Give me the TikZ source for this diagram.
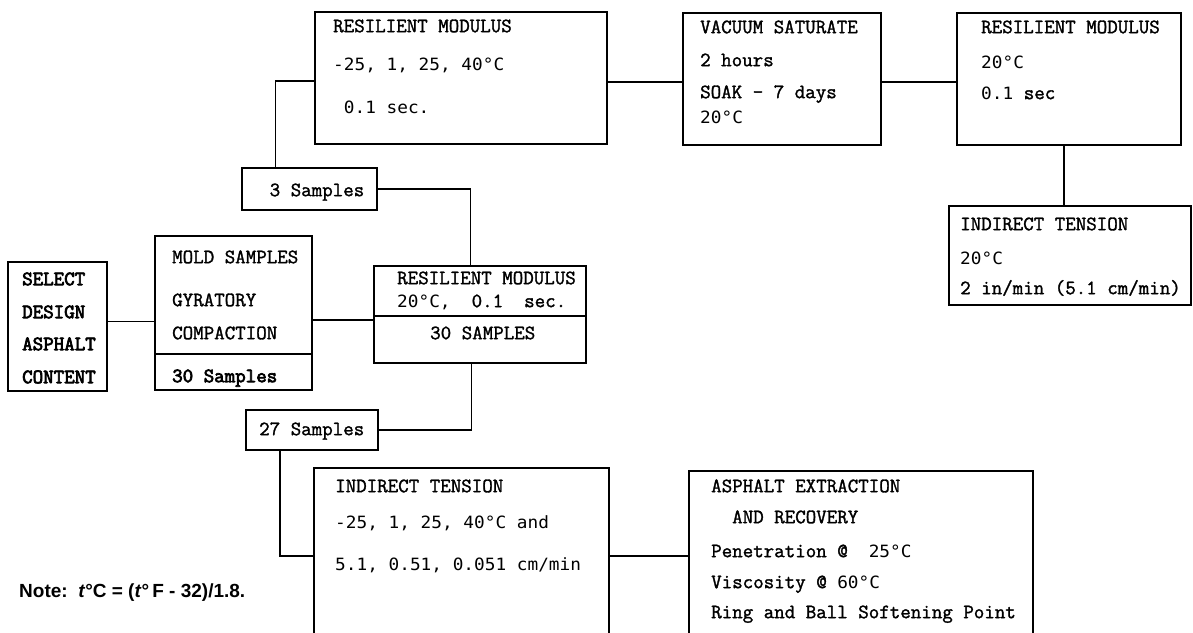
\documentclass[tikz,border=0pt]{standalone}
\usepackage{fontspec}
\usetikzlibrary{calc}
\newfontfamily\cour[Scale=1.146,FakeBold=1.5]{Latin Modern Mono}
\newfontfamily\courb[Scale=1.146,FakeBold=3.5]{Latin Modern Mono}
\newfontfamily\goth[Scale=0.95,FakeStretch=1.05]{DejaVu Sans Mono}
\newfontfamily\notefont{Liberation Sans}
\newcommand{\sn}[1]{{\goth #1}}
\newcommand{\tp}{\rule{0pt}{14pt}}
\tikzset{
  box/.style={draw, line width=1.6pt, inner sep=0pt},
  txt/.style={anchor=north west, inner sep=0pt, align=left,
    font=\fontsize{17.8}{20}\selectfont\cour},
  link/.style={line width=1.6pt},
}

\begin{document}
\begin{tikzpicture}[x=1pt,y=-1pt]
  \useasboundingbox (0,0) rectangle (1193,632);
  \clip (0,0) rectangle (1193,632);

  \node[box, minimum width=99, minimum height=129] (select) at (57.5,326.5) {};
  \node[box, minimum width=157, minimum height=154] (mold) at (233.5,313) {};
  \node[box, minimum width=212, minimum height=97] (rmc) at (480,314.5) {};
  \node[box, minimum width=135, minimum height=42] (s3) at (309.5,189) {};
  \node[box, minimum width=132, minimum height=40] (s27) at (312,430) {};
  \node[box, minimum width=292, minimum height=132] (rmt) at (461,78) {};
  \node[box, minimum width=198, minimum height=132] (vac) at (782,79) {};
  \node[box, minimum width=224, minimum height=132] (rmr) at (1069,79) {};
  \node[box, minimum width=242, minimum height=99] (itr) at (1070,255.5) {};
  \node[box, minimum width=295, minimum height=176] (itb) at (461.5,556) {};
  \node[box, minimum width=344, minimum height=174] (asp) at (861,558) {};

  \draw[link] ($(mold.south west)+(0,-37)$) -- ($(mold.south east)+(0,-37)$);
  \draw[link] ($(rmc.south west)+(0,-48)$) -- ($(rmc.south east)+(0,-48)$);

  \node[txt, font=\fontsize{17.8}{20}\selectfont\courb] (select-t) at (22,271)
    {\tp SELECT\\[13pt] DESIGN\\[12pt] ASPHALT\\[13pt] CONTENT};
  \node[txt] (mold-t) at (172,249)
    {\tp MOLD SAMPLES\\[23pt] GYRATORY\\[13pt] COMPACTION\\[23pt] {\courb 30 Samples}};
  \node[txt] (rmc-t) at (397,270) {\tp RESILIENT MODULUS\\[3pt] \sn{20°C,}~~0.1~~sec.};
  \node[txt] (rmc-n) at (430,325) {\tp 30 SAMPLES};
  \node[txt] (s3-t) at (259,182) {\tp ~3 Samples};
  \node[txt] (s27-t) at (259,421) {\tp 27 Samples};
  \node[txt] (rmt-t) at (333,18)
    {\tp RESILIENT MODULUS\\[18pt] \sn{-25, 1, 25, 40°C}\\[23pt] \sn{~0.1 sec.}};
  \node[txt] (vac-t) at (700,19)
    {\tp VACUUM SATURATE\\[13pt] 2 hours\\[12pt] SOAK - 7 days\\[5pt] \sn{20°C}};
  \node[txt] (rmr-t) at (981,19)
    {\tp RESILIENT MODULUS\\[15pt] \sn{20°C}\\[11pt] \sn{0.1} sec};
  \node[txt] (itr-t) at (960,216)
    {\tp INDIRECT TENSION\\[14pt] \sn{20°C}\\[10pt] 2 in/min (5.1 cm/min)};
  \node[txt] (itb-t) at (335,478)
    {\tp INDIRECT TENSION\\[16pt] \sn{-25, 1, 25, 40°C and}\\[22pt] \sn{5.1, 0.51, 0.051 cm/min}};
  \node[txt] (asp-t) at (711,478)
    {\tp ASPHALT EXTRACTION\\[11pt] ~~AND RECOVERY\\[14pt] Penetration @~~\sn{25°C}\\[11pt]
     Viscosity @ \sn{60°C}\\[10pt] Ring and Ball Softening Point};

  \node[anchor=base west, inner sep=0pt, font=\fontsize{19}{22}\selectfont\notefont\bfseries]
    (note) at (19,597) {Note:~~\textit{t}°C = (\textit{t}°\,F - 32)/1.8.};

  \draw[link] ([yshift=5pt]select.east) -- ([yshift=5pt]select.east -| mold.west);
  \draw[link] ([yshift=-7pt]mold.east) -- ([yshift=-7pt]mold.east -| rmc.west);
  \draw[link] ($(s3.north west)!0.25!(s3.north east)$) |- ([yshift=-3pt]rmt.west);
  \draw[link] (s3.east) -| ($(rmc.north west)!0.455!(rmc.north east)$);
  \draw[link] ($(rmc.south west)!0.46!(rmc.south east)$) |- (s27.east);
  \draw[link] ($(s27.south west)!0.26!(s27.south east)$) |- (itb.west);
  \draw[link] (itb.east) -- (itb.east -| asp.west);
  \draw[link] ([yshift=-4pt]rmt.east) -- ([yshift=-4pt]rmt.east -| vac.west);
  \draw[link] ([yshift=-3pt]vac.east) -- ([yshift=-3pt]vac.east -| rmr.west);
  \draw[link] ([xshift=-5pt]rmr.south) -- ([xshift=-5pt]rmr.south |- itr.north);
\end{tikzpicture}
\end{document}
